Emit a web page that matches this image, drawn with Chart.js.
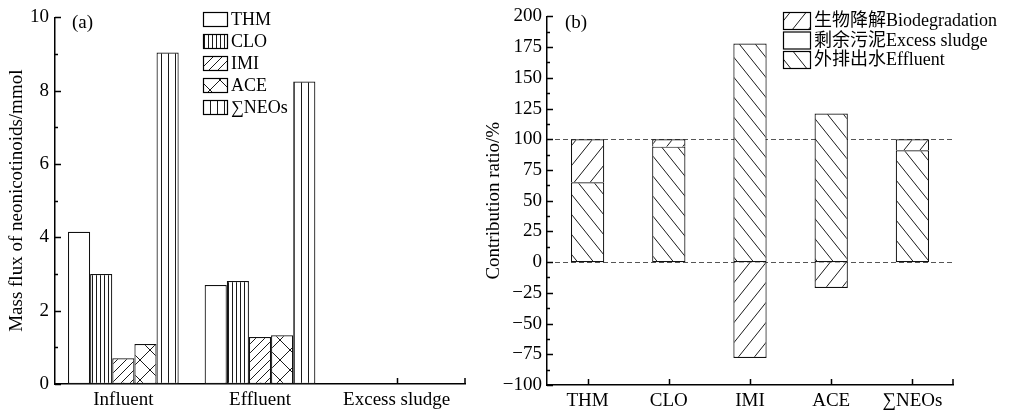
<!DOCTYPE html>
<html>
<head>
<meta charset="utf-8">
<script src="https://cdn.jsdelivr.net/npm/chart.js@4/dist/chart.umd.min.js"></script>
<style>
  html, body { margin: 0; padding: 0; background: #fff; }
  #wrap { position: relative; width: 1012px; height: 414px; }
  .panel { position: absolute; top: 0; height: 414px; }
  #panel-a { left: 0; width: 480px; }
  #panel-b { left: 480px; width: 532px; }
</style>
</head>
<body>
<div id="wrap">
  <div class="panel" id="panel-a"><canvas id="chart-mass-flux"></canvas></div>
  <div class="panel" id="panel-b"><canvas id="chart-contribution"></canvas></div>
</div>
<script>
const FONT = '"Liberation Serif", "Noto Sans CJK SC", serif';

// (a) mass flux, mmol
const fluxCategories = ['Influent', 'Effluent', 'Excess sludge'];
const compoundLabels = ['THM', 'CLO', 'IMI', 'ACE', '∑NEOs'];
const thmFlux = [4.15, 2.70, 0];
const cloFlux = [3.00, 2.81, 0];
const imiFlux = [0.70, 1.28, 0];
const aceFlux = [1.09, 1.33, 0];
const neosFlux = [9.04, 8.25, 0];
const fluxTicks = { min: 0, max: 10, step: 2 };

// (b) contribution ratio, %
const ratioCategories = ['THM', 'CLO', 'IMI', 'ACE', '∑NEOs'];
const effluentRatio = [65, 94, 178, 121, 91];
const sludgeRatio = [0, 0, 0, 0, 0];
const biodegradationRatio = [35, 6, -78, -21, 9];
const ratioTicks = { min: -100, max: 200, step: 25 };
const ratioRefLines = [0, 100];

const legendLabels = {
  biodegradation: '生物降解Biodegradation',
  sludge: '剩余污泥Excess sludge',
  effluent: '外排出水Effluent'
};

function makePattern(kind, w, h) {
  if (kind === 'white') return '#fff';
  const c = document.createElement('canvas');
  c.width = w;
  c.height = h;
  const g = c.getContext('2d');
  g.fillStyle = '#fff';
  g.fillRect(0, 0, w, h);
  g.strokeStyle = '#1a1a1a';
  g.lineWidth = 1;
  g.beginPath();
  if (kind === 'vertical') {
    g.moveTo(0.5, 0);
    g.lineTo(0.5, h);
  }
  if (kind === 'slash' || kind === 'cross') {
    [-w, 0, w].forEach((dx) => {
      g.moveTo(dx, h);
      g.lineTo(dx + w, 0);
    });
  }
  if (kind === 'backslash' || kind === 'cross') {
    [-w, 0, w].forEach((dx) => {
      g.moveTo(dx, 0);
      g.lineTo(dx + w, h);
    });
  }
  g.stroke();
  return g.createPattern(c, 'repeat');
}

const fluxFills = [
  makePattern('white', 4, 4),
  makePattern('vertical', 4, 4),
  makePattern('slash', 9, 9),
  makePattern('cross', 20, 20),
  makePattern('vertical', 7, 4)
];
const effluentFill = makePattern('backslash', 16, 20);
const biodegradationFill = makePattern('slash', 16, 20);

const innerTicks = {
  id: 'innerTicks',
  beforeDatasetsDraw(chart, args, opts) {
    const { ctx, chartArea, scales: { x, y } } = chart;
    ctx.save();
    ctx.strokeStyle = '#000';
    ctx.lineWidth = 1.5;
    ctx.beginPath();
    const values = y.ticks.map((t) => t.value);
    values.forEach((v, i) => {
      const py = Math.round(y.getPixelForValue(v)) + 0.5;
      ctx.moveTo(chartArea.left, py);
      ctx.lineTo(chartArea.left + opts.major, py);
      if (i < values.length - 1) {
        const pm = Math.round(y.getPixelForValue((v + values[i + 1]) / 2)) + 0.5;
        ctx.moveTo(chartArea.left, pm);
        ctx.lineTo(chartArea.left + opts.minor, pm);
      }
    });
    x.ticks.forEach((t, i) => {
      const px = Math.round(x.getPixelForTick(i)) + 0.5;
      ctx.moveTo(px, chartArea.bottom);
      ctx.lineTo(px, chartArea.bottom - opts.major);
    });
    ctx.moveTo(chartArea.right, chartArea.bottom);
    ctx.lineTo(chartArea.right, chartArea.bottom - opts.major);
    ctx.stroke();
    ctx.restore();
  }
};

const refLines = {
  id: 'refLines',
  beforeDatasetsDraw(chart, args, opts) {
    if (!opts.values) return;
    const { ctx, chartArea, scales: { y } } = chart;
    ctx.save();
    ctx.strokeStyle = '#555';
    ctx.lineWidth = 1;
    ctx.setLineDash([5, 3]);
    opts.values.forEach((v) => {
      const py = Math.round(y.getPixelForValue(v)) + 0.5;
      ctx.beginPath();
      ctx.moveTo(chartArea.left, py);
      ctx.lineTo(chartArea.right, py);
      ctx.stroke();
    });
    ctx.restore();
  }
};

const hatchLegend = {
  id: 'hatchLegend',
  afterDraw(chart, args, opts) {
    const { ctx } = chart;
    const datasets = chart.data.datasets;
    ctx.save();
    ctx.font = `18px ${FONT}`;
    ctx.textBaseline = 'middle';
    opts.order.forEach((idx, row) => {
      const ds = datasets[idx];
      const top = opts.top + row * opts.row;
      ctx.fillStyle = ds.legendFill;
      ctx.fillRect(opts.left, top, opts.boxW, opts.boxH);
      ctx.strokeStyle = '#000';
      ctx.lineWidth = 1.2;
      ctx.strokeRect(opts.left + 0.5, top + 0.5, opts.boxW, opts.boxH);
      ctx.fillStyle = '#000';
      ctx.fillText(ds.label, opts.left + opts.boxW + opts.gap, top + opts.boxH / 2 + 1);
    });
    if (opts.tag) {
      ctx.font = `19px ${FONT}`;
      ctx.fillText(opts.tag.text, opts.tag.x, opts.tag.y);
    }
    ctx.restore();
  }
};

const tickFont = { family: FONT, size: 19 };
const minusSign = (v) => String(v).replace('-', '\u2212');

function baseScales(yRange, yWidth, xHeight, title, titlePad, labelPad) {
  return {
    x: {
      stacked: false,
      grid: { display: false, drawTicks: false },
      border: { color: '#000', width: 1.5 },
      ticks: { color: '#000', font: tickFont, padding: 5, maxRotation: 0, autoSkip: false },
      afterFit: (scale) => { scale.height = xHeight; }
    },
    y: {
      min: yRange.min,
      max: yRange.max,
      grid: { display: false, drawTicks: false },
      border: { color: '#000', width: 1.5 },
      ticks: { stepSize: yRange.step, color: '#000', font: tickFont, padding: labelPad, callback: minusSign },
      title: { display: true, text: title, color: '#000', font: tickFont, padding: { top: titlePad, bottom: 0 } },
      afterFit: (scale) => { scale.width = yWidth; }
    }
  };
}

// zero-height segments would otherwise leave a stray border line
const hatchBar = (fill, skipped = false) => ({
  backgroundColor: (c) => (c.raw === 0 ? 'rgba(0,0,0,0)' : fill),
  legendFill: fill,
  borderColor: '#111',
  borderWidth: (c) => (c.raw === 0 ? 0 : 1.2),
  borderSkipped: skipped,
  barPercentage: 1
});

new Chart(document.getElementById('chart-mass-flux'), {
  type: 'bar',
  data: {
    labels: fluxCategories,
    datasets: [thmFlux, cloFlux, imiFlux, aceFlux, neosFlux].map((values, i) => ({
      label: compoundLabels[i],
      data: values,
      ...hatchBar(fluxFills[i]),
      categoryPercentage: 0.81
    }))
  },
  options: {
    responsive: true,
    maintainAspectRatio: false,
    animation: false,
    layout: { padding: { top: 15, right: 15, left: 0, bottom: 0 } },
    plugins: {
      legend: { display: false },
      tooltip: { enabled: false },
      innerTicks: { major: 6, minor: 3 },
      hatchLegend: {
        order: [0, 1, 2, 3, 4],
        left: 203, top: 12, boxW: 24, boxH: 14, row: 22, gap: 4,
        tag: { text: '(a)', x: 72, y: 23 }
      }
    },
    scales: baseScales(fluxTicks, 55, 30, 'Mass flux of neonicotinoids/mmol', 6, 6)
  },
  plugins: [innerTicks, hatchLegend]
});

const ratioScales = baseScales(ratioTicks, 67, 29, 'Contribution ratio/%', 3, 5);
ratioScales.x.stacked = true;
ratioScales.y.stacked = true;

new Chart(document.getElementById('chart-contribution'), {
  type: 'bar',
  data: {
    labels: ratioCategories,
    datasets: [
      { label: legendLabels.effluent, data: effluentRatio, ...hatchBar(effluentFill) },
      { label: legendLabels.sludge, data: sludgeRatio, ...hatchBar('#fff') },
      { label: legendLabels.biodegradation, data: biodegradationRatio, ...hatchBar(biodegradationFill, 'start') }
    ].map((ds) => ({ ...ds, categoryPercentage: 0.41 }))
  },
  options: {
    responsive: true,
    maintainAspectRatio: false,
    animation: false,
    layout: { padding: { top: 16, right: 59, left: 0, bottom: 0 } },
    plugins: {
      legend: { display: false },
      tooltip: { enabled: false },
      innerTicks: { major: 6, minor: 3 },
      refLines: { values: ratioRefLines },
      hatchLegend: {
        order: [2, 1, 0],
        left: 303, top: 12, boxW: 27, boxH: 17, row: 19.5, gap: 4,
        tag: { text: '(b)', x: 85, y: 23 }
      }
    },
    scales: ratioScales
  },
  plugins: [refLines, innerTicks, hatchLegend]
});
</script>
</body>
</html>
